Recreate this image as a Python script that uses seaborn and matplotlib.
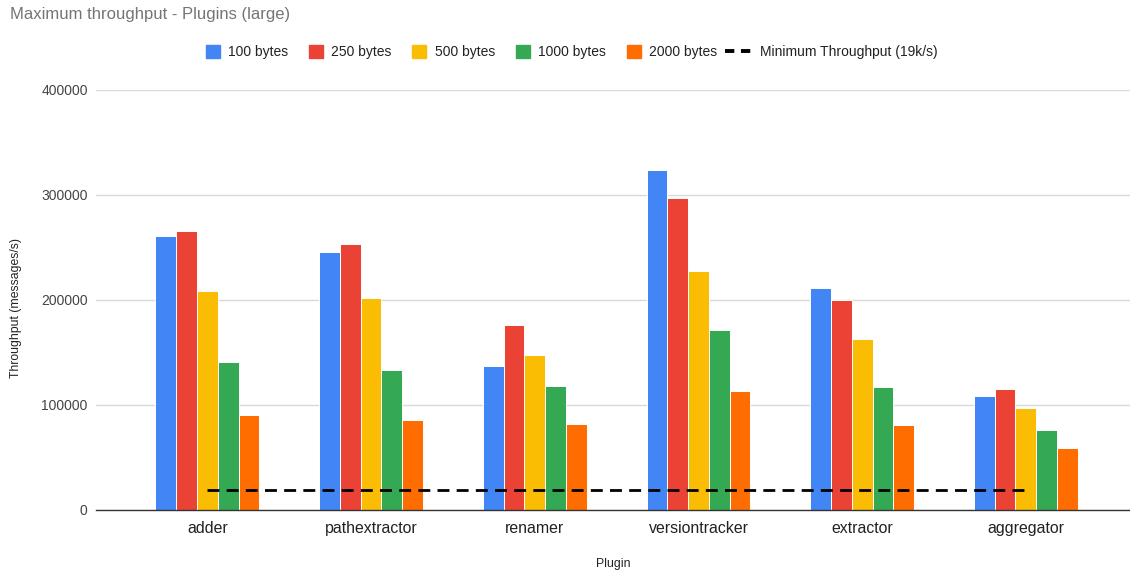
import numpy as np
import pandas as pd
import matplotlib
matplotlib.use("Agg")
import matplotlib.pyplot as plt
from matplotlib.patches import Patch
from matplotlib.lines import Line2D
from matplotlib.legend_handler import HandlerBase
import seaborn as sns

# Maximum throughput per plugin, one series per message size (messages/s)
plugins = ["adder", "pathextractor", "renamer", "versiontracker", "extractor", "aggregator"]
sizes = ["100 bytes", "250 bytes", "500 bytes", "1000 bytes", "2000 bytes"]
tp_100 = [261000, 245000, 137000, 323000, 211000, 108000]
tp_250 = [265000, 253000, 176000, 297000, 200000, 115000]
tp_500 = [208000, 202000, 147000, 227000, 163000, 97000]
tp_1000 = [141000, 133000, 118000, 171000, 117000, 76000]
tp_2000 = [90000, 86000, 82000, 113000, 81000, 59000]
min_throughput = 19000
y_ticks = [0, 100000, 200000, 300000, 400000]

colors = ["#4285F4", "#EA4335", "#FBBC04", "#34A853", "#FF6D01"]

series = [tp_100, tp_250, tp_500, tp_1000, tp_2000]
df = pd.DataFrame({
    "Plugin": np.repeat([plugins], len(sizes), axis=0).ravel(),
    "Size": np.repeat(sizes, len(plugins)),
    "Throughput": np.concatenate(series),
})

sns.set_theme(style="white")
plt.rcParams["font.family"] = ["Liberation Sans", "DejaVu Sans"]

fig = plt.figure(figsize=(11.3, 5.74), dpi=100)
ax = fig.add_axes([0.085, 0.1115, 0.915, 0.7325])

sns.barplot(data=df, x="Plugin", y="Throughput", hue="Size", order=plugins,
            hue_order=sizes, palette=colors, width=0.635, gap=0,
            edgecolor="white", linewidth=0.7, saturation=1, legend=False, ax=ax)

# Minimum required throughput across all plugins
sns.lineplot(x=plugins, y=[min_throughput] * len(plugins), color="black",
             linewidth=2.0, linestyle=(0, (4.3, 2.6)), ax=ax)

ax.set_ylim(0, 400000)
ax.set_xlim(-0.68, 5.636)
ax.set_yticks(y_ticks)
ax.set_yticklabels([str(v) for v in y_ticks])
ax.grid(axis="y", color="#d9d9d9", linewidth=1.0)
ax.set_axisbelow(True)
for side in ["left", "right", "top"]:
    ax.spines[side].set_visible(False)
ax.spines["bottom"].set_color("#333333")
ax.spines["bottom"].set_linewidth(1.0)
ax.tick_params(axis="y", length=0, pad=6, labelsize=10, labelcolor="#444444")
ax.tick_params(axis="x", length=0, pad=8, labelsize=11.4, labelcolor="#222222")

ax.set_xlabel("Plugin", fontsize=8.8, color="#222222", labelpad=16)
ax.set_ylabel("Throughput (messages/s)", fontsize=8.8, color="#222222")
ax.yaxis.set_label_coords(-0.0716, 0.48)

fig.text(0.009, 0.975, "Maximum throughput - Plugins (large)", fontsize=12,
         color="#757575", ha="left", va="center")


class WideDashHandler(HandlerBase):
    """Draws the dashed legend key a bit wider than the square swatches."""

    def create_artists(self, legend, orig_handle, xdescent, ydescent,
                       width, height, fontsize, trans):
        y = height / 2 - ydescent
        line = Line2D([-xdescent - 0.9 * width, width - xdescent], [y, y],
                      color="black", linewidth=2.8, linestyle=(0, (2.4, 1.7)),
                      transform=trans)
        return [line]


handles = [Patch(facecolor=c, edgecolor=c) for c in colors]
dash_handle = Line2D([0], [0], color="black")
handles.append(dash_handle)
labels = sizes + ["Minimum Throughput (19k/s)"]
fig.legend(handles, labels, loc="center", bbox_to_anchor=(0.506, 0.909), ncol=6,
           frameon=False, fontsize=10, handlelength=1.0, handleheight=1.0,
           handletextpad=0.6, columnspacing=1.5, labelcolor="#222222",
           handler_map={dash_handle: WideDashHandler()})

fig.savefig("out.png", dpi=100)
